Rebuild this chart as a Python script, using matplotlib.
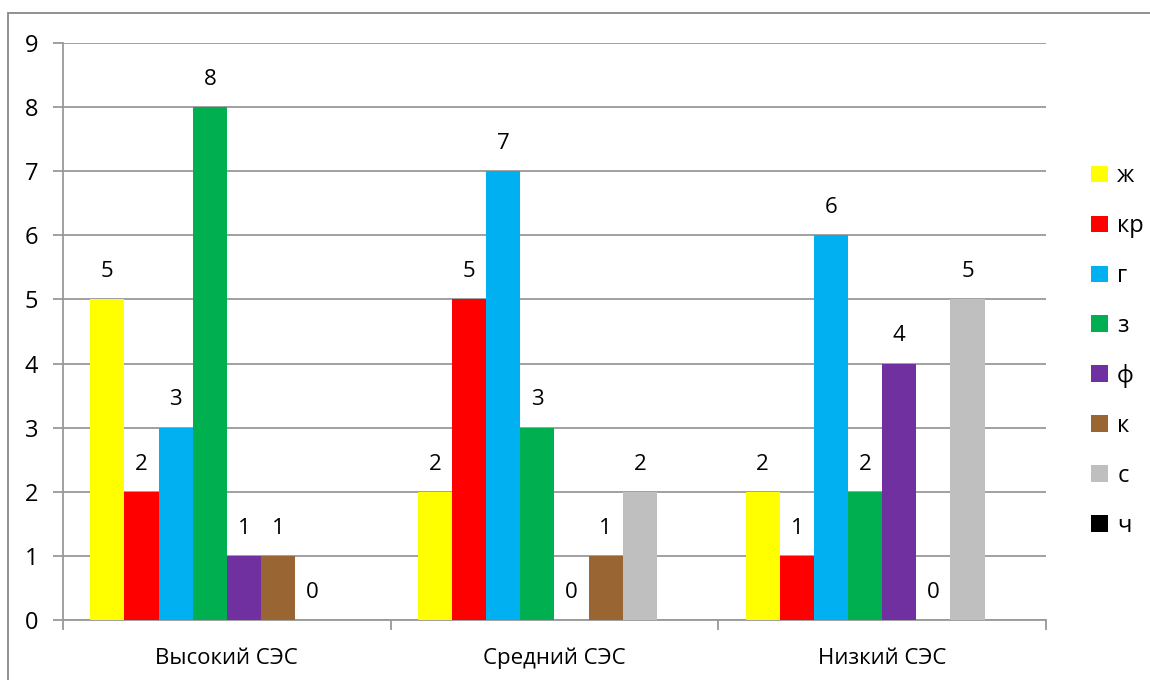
import numpy as np
import matplotlib
matplotlib.use("Agg")
import matplotlib.pyplot as plt
from matplotlib.patches import Rectangle

plt.rcParams['font.family'] = ['Open Sans', 'DejaVu Sans']

categories = ["Высокий СЭС", "Средний СЭС", "Низкий СЭС"]
series = ["ж", "кр", "г", "з", "ф", "к", "с", "ч"]
colors = ["#FFFF00", "#FF0000", "#00B0F0", "#00B050", "#7030A0", "#996633", "#BFBFBF", "#000000"]

# None = no bar / no label
values = {
	"ж":  [5, 2, 2],
	"кр": [2, 5, 1],
	"г":  [3, 7, 6],
	"з":  [8, 3, 2],
	"ф":  [1, 0, 4],
	"к":  [1, 1, 0],
	"с":  [0, 2, 5],
	"ч":  [None, None, None],
}

fig = plt.figure(figsize=(11.5, 6.8), dpi=100)
ax = fig.add_axes([63/1150, 1-620/680, (1046-63)/1150, (620-43)/680])

n = len(series)
gap = 1.6
bw = 1.0 / (n + gap)
x = np.arange(len(categories))

for i, (s, c) in enumerate(zip(series, colors)):
	vals = values[s]
	off = (i - (n - 1) / 2) * bw
	for j, v in enumerate(vals):
		if v is None:
			continue
		ax.bar(x[j] + off, v, width=bw, color=c, edgecolor="none", zorder=3)
		ax.annotate(str(v), (x[j] + off, v), xytext=(0, 20), textcoords="offset points",
			ha="center", va="center", fontsize=16, color="black")
	ax.bar(0, 0, width=0, color=c, label=s)

ax.set_xlim(-0.5, len(categories) - 0.5)
ax.set_ylim(0, 9)
ax.set_yticks(range(10))
ax.yaxis.grid(True, color="#999999", linewidth=1.3, zorder=0)
ax.set_axisbelow(True)

ax.set_xticks(x)
ax.set_xticklabels(categories, fontsize=16)
ax.set_xticks(np.arange(len(categories) + 1) - 0.5, minor=True)
ax.tick_params(axis="x", which="major", length=0, pad=20)
ax.tick_params(axis="x", which="minor", length=7, color="#999999", width=1.3)
ax.tick_params(axis="y", length=7, color="#999999", width=1.3, labelsize=17, pad=11)

for side in ["top", "right"]:
	ax.spines[side].set_visible(False)
for side in ["left", "bottom"]:
	ax.spines[side].set_color("#999999")
	ax.spines[side].set_linewidth(1.3)

leg = fig.legend(loc="center left", bbox_to_anchor=(1070/1150, 1-351/680), frameon=False,
	fontsize=17, handlelength=0.7, handleheight=0.7, handletextpad=0.4, labelspacing=1.1)

fig.patches.append(Rectangle((8/1150, -0.1), 1.2, 1-13/680+0.1, transform=fig.transFigure,
	fill=False, edgecolor="#888888", linewidth=1.3))

fig.savefig("out.png", dpi=100)
